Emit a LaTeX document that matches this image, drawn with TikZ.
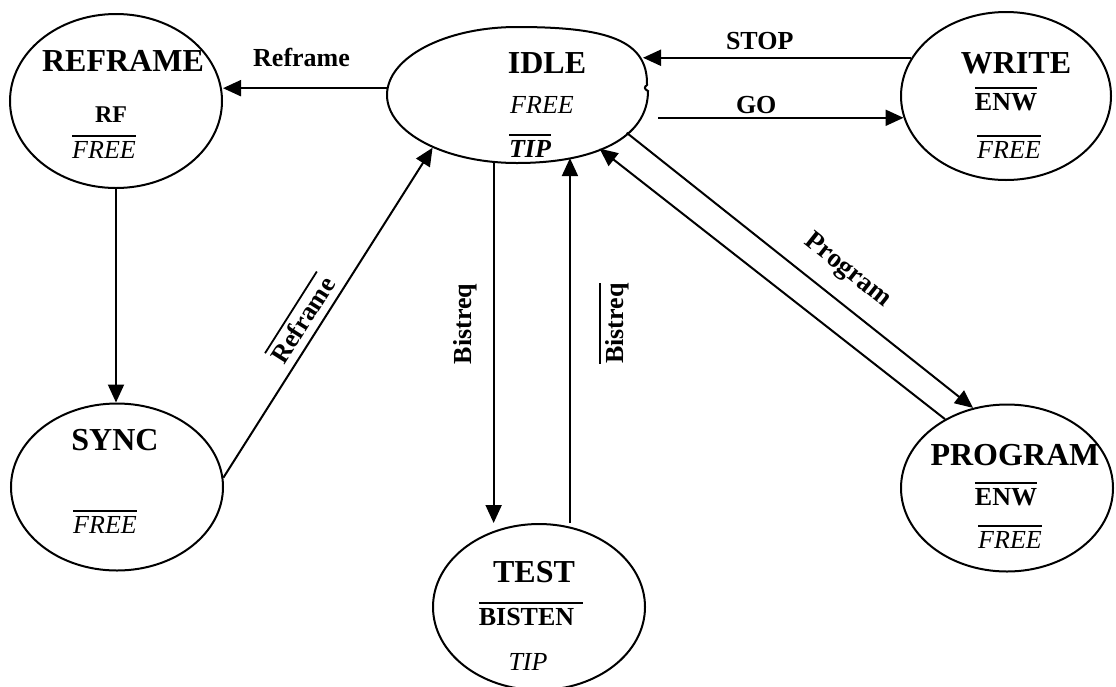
\documentclass[tikz,border=0pt]{standalone}
\usepackage{fontspec}
\setmainfont{Liberation Serif}
\usetikzlibrary{shapes.geometric,arrows.meta,calc}
% negated signal: text with a bar over it
\newcommand{\negsig}[1]{\vbox{\hrule height 1.8pt\kern 4pt\hbox{#1}}}

\begin{document}
\begin{tikzpicture}[x=1pt,y=-1pt,line width=2pt,
  stnode/.style={ellipse, draw, inner sep=0pt},
  hub/.style={ellipse, inner sep=0pt},
  rim/.style={line width=2pt},
  arr/.style={line width=2pt, -{Triangle[length=18pt,width=16pt]}},
  ttl/.style={font=\fontsize{32}{36}\selectfont\bfseries, inner sep=0pt, outer sep=0pt, anchor=base},
  sigb/.style={font=\fontsize{26}{30}\selectfont\bfseries, inner sep=0pt, outer sep=0pt, anchor=base},
  sigi/.style={font=\fontsize{26}{30}\selectfont\itshape, inner sep=0pt, outer sep=0pt, anchor=base},
  sigbi/.style={font=\fontsize{26}{30}\selectfont\bfseries\itshape, inner sep=0pt, outer sep=0pt, anchor=base},
  lbl/.style={font=\fontsize{26}{30}\selectfont\bfseries, inner sep=0pt, outer sep=0pt},
]
\useasboundingbox (0,0) rectangle (1116,686);

% states
\node[stnode, minimum width=212pt, minimum height=174pt] (rf)    at (116,101) {};
\node[hub,    minimum width=260pt, minimum height=136pt] (idle)  at (517,95)  {};
\node[stnode, minimum width=210pt, minimum height=168pt] (write) at (1006,96)  {};
\node[stnode, minimum width=212pt, minimum height=167pt] (sync)  at (117,487) {};
\node[stnode, minimum width=212pt, minimum height=166pt] (test)  at (539,607) {};
\node[stnode, minimum width=212pt, minimum height=167pt] (prog)  at (1007,488) {};

% outline of the IDLE state (slightly irregular on its right side)
\draw[rim, shift={(idle.center)}]
  (-130,0) .. controls (-130,-37.5) and (-72,-68) .. (0,-68)
  .. controls (90,-68) and (131,-55) .. (130,-10)
  .. controls (127,-8) and (127,-6) .. (131,-4)
  .. controls (131,43) and (78,68) .. (0,68)
  .. controls (-72,68) and (-130,37.5) .. (-130,0) -- cycle;

% state contents
\node[ttl]  (rf-name)   at (123,71)  {REFRAME};
\node[sigb, font=\fontsize{24}{28}\selectfont\bfseries] (rf-rf) at (111,122) {RF};
\node[sigi] (rf-free)   at (104,158) {\negsig{FREE}};

\node[ttl]  (idle-name) at (547,73)  {IDLE};
\node[sigi] (idle-free) at (542,113) {FREE};
\node[sigbi](idle-tip)  at (530,157) {\negsig{TIP}};

\node[ttl]  (write-name) at (1016,73) {WRITE};
\node[sigb] (write-enw)  at (1006,110) {\negsig{ENW}};
\node[sigi] (write-free) at (1009,158) {\negsig{FREE}};

\node[ttl]  (sync-name) at (115,450) {SYNC};
\node[sigi] (sync-free) at (105,533) {\negsig{FREE}};

\node[ttl]  (test-name) at (534,582) {TEST};
\node[sigb] (test-bis)  at (531,625) {\negsig{BISTEN\kern 9pt}};
\node[sigi] (test-tip)  at (528,670) {TIP};

\node[ttl]  (prog-name) at (1015,465) {PROGRAM};
\node[sigb] (prog-enw)  at (1006,505) {\negsig{ENW}};
\node[sigi] (prog-free) at (1010,548) {\negsig{FREE}};

% transitions
\draw[arr] (idle.177) -- (idle.177 -| rf.east)
  node[lbl, pos=0.52, above=21pt] (l-reframe) {Reframe};

\draw[arr] (write.158) -- ($(write.158 -| idle.east)+(-5,0)$)
  node[lbl, pos=0.565, above=8pt] (l-stop) {STOP};

\draw[arr] ($(write.192 -| idle.east)+(10,0)$) -- (write.192)
  node[lbl, pos=0.40, above=4.5pt] (l-go) {GO};

\draw[arr] (rf.south) -- (rf.south |- sync.north);

\draw[arr] (sync.5) -- (idle.212)
  node[lbl, sloped, pos=0.45, above=8pt] (l-nreframe) {\negsig{Reframe}};

\draw[arr] (idle.-109) -- (idle.-109 |- test.north);
\node[lbl, rotate=90] (l-bistreq) at ($(idle.-109)!0.5!(idle.-109 |- test.north)+(-28,-19)$) {Bistreq};

\draw[arr] (test.north -| idle.-50) -- (idle.-50);
\node[lbl, rotate=90] (l-nbistreq) at ($(idle.-50)!0.5!(test.north -| idle.-50)+(44,-17)$) {\negsig{Bistreq}};

\draw[arr] (idle.-19) -- (prog.113)
  node[lbl, font=\fontsize{27}{30}\selectfont\bfseries, sloped, pos=0.585, above=17pt] (l-program) {Program};

\draw[arr] (prog.132) -- (idle.-33);

\end{tikzpicture}
\end{document}
